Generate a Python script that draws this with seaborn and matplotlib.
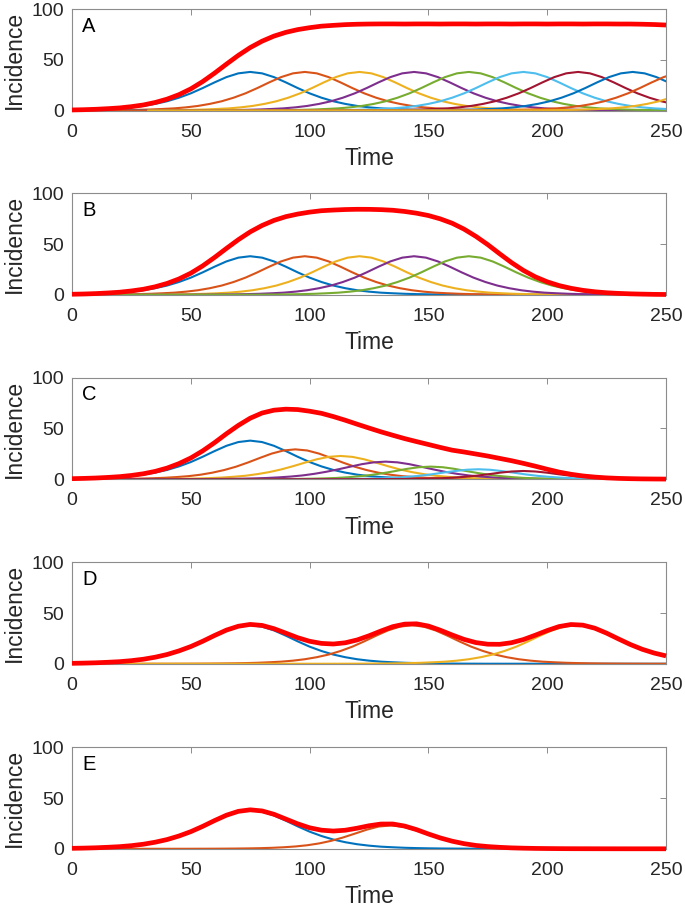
import numpy as np
import pandas as pd
import matplotlib
matplotlib.use("Agg")
import matplotlib.pyplot as plt
import seaborn as sns

# time grid of the red totals
time = np.arange(0, 251, 5)

# days relative to the peak of a sub-epidemic (grid of the component curves);
# the curves sit on zero from 100 days away out to 250 days away
offsets = np.r_[-250, np.arange(-100, 101, 5), 250]

# one sub-epidemic of height ~38 (blue curve, same shape in A, B, D and E)
profile = [0.0, 0.07, 0.10, 0.15, 0.22, 0.32, 0.47, 0.69, 1.0, 1.5, 2.1, 3.1, 4.5, 6.5, 9.1,
           12.6, 16.9, 22.1, 27.7, 32.9, 36.6, 38.0, 36.6, 32.9, 27.7, 22.1, 16.9, 12.6,
           9.1, 6.5, 4.5, 3.1, 2.1, 1.5, 1.0, 0.69, 0.47, 0.32, 0.22, 0.15, 0.10, 0.07, 0.0]

peaks_A = [75, 98, 121, 144, 167, 190, 213, 236, 259, 282]
peaks_B = [75, 98, 121, 144, 167]
peaks_C = [75, 94, 113, 132, 151, 171, 190]
peaks_D = [75, 143, 212]
peaks_E = [75, 134]

# panel C sub-epidemics get smaller one after the other
c_orange = [0.0, 0.04, 0.06, 0.09, 0.13, 0.19, 0.29, 0.43, 0.64, 0.95, 1.4, 2.1, 3.0, 4.4, 6.4,
            9.0, 12.3, 16.4, 20.9, 25.2, 28.3, 29.4, 28.3, 25.2, 20.9, 16.4, 12.3, 9.0,
            6.4, 4.4, 3.0, 2.1, 1.4, 0.95, 0.64, 0.43, 0.29, 0.19, 0.13, 0.09, 0.06, 0.04, 0.0]
c_yellow = [0.0, 0.03, 0.05, 0.07, 0.10, 0.15, 0.23, 0.34, 0.50, 0.74, 1.1, 1.6, 2.4, 3.4, 5.0,
            7.0, 9.6, 12.8, 16.3, 19.6, 22.0, 22.9, 22.0, 19.6, 16.3, 12.8, 9.6, 7.0,
            5.0, 3.4, 2.4, 1.6, 1.1, 0.74, 0.50, 0.34, 0.23, 0.15, 0.10, 0.07, 0.05, 0.03, 0.0]
c_purple = [0.0, 0.02, 0.03, 0.05, 0.08, 0.11, 0.17, 0.25, 0.38, 0.56, 0.83, 1.2, 1.8, 2.6, 3.7,
            5.3, 7.3, 9.7, 12.3, 14.8, 16.6, 17.3, 16.6, 14.8, 12.3, 9.7, 7.3, 5.3,
            3.7, 2.6, 1.8, 1.2, 0.83, 0.56, 0.38, 0.25, 0.17, 0.11, 0.08, 0.05, 0.03, 0.02, 0.0]
c_green = [0.0, 0.0, 0.01, 0.01, 0.02, 0.04, 0.05, 0.09, 0.13, 0.21, 0.33, 0.52, 0.80, 1.2, 1.9,
           2.9, 4.2, 6.0, 8.0, 10.2, 11.8, 12.4, 11.8, 10.2, 8.0, 6.0, 4.2, 2.9,
           1.9, 1.2, 0.80, 0.52, 0.33, 0.21, 0.13, 0.09, 0.05, 0.04, 0.02, 0.01, 0.01, 0.0, 0.0]
c_lightblue = [0.0, 0.0, 0.01, 0.01, 0.02, 0.03, 0.04, 0.07, 0.11, 0.17, 0.26, 0.41, 0.64, 0.98, 1.5,
               2.3, 3.3, 4.7, 6.4, 8.0, 9.3, 9.8, 9.3, 8.0, 6.4, 4.7, 3.3, 2.3,
               1.5, 0.98, 0.64, 0.41, 0.26, 0.17, 0.11, 0.07, 0.04, 0.03, 0.02, 0.01, 0.01, 0.0, 0.0]
c_darkred = [0.0, 0.0, 0.0, 0.0, 0.01, 0.01, 0.02, 0.03, 0.05, 0.08, 0.13, 0.22, 0.35, 0.57, 0.92,
             1.5, 2.3, 3.4, 4.8, 6.4, 7.6, 8.1, 7.6, 6.4, 4.8, 3.4, 2.3, 1.5,
             0.92, 0.57, 0.35, 0.22, 0.13, 0.08, 0.05, 0.03, 0.02, 0.01, 0.01, 0.0, 0.0, 0.0, 0.0]

# second, smaller wave of panel E
e_orange = [0.0, 0.01, 0.02, 0.03, 0.04, 0.07, 0.10, 0.16, 0.25, 0.39, 0.61, 0.96, 1.5, 2.3, 3.5,
            5.3, 7.8, 11.1, 14.9, 18.8, 21.9, 23.0, 21.9, 18.8, 14.9, 11.1, 7.8, 5.3,
            3.5, 2.3, 1.5, 0.96, 0.61, 0.39, 0.25, 0.16, 0.10, 0.07, 0.04, 0.03, 0.02, 0.01, 0.0]

# red curves, read every 5 time units
total_A = [0.55, 0.8, 1.2, 1.8, 2.55, 3.8, 5.45, 7.9, 11.2, 15.6,
           21.3, 28.5, 36.8, 45.7, 54.3, 62.0, 68.3, 73.3, 77.0, 79.7,
           81.6, 83.1, 83.9, 84.6, 85.0, 85.2, 85.3, 85.3, 85.2, 85.3,
           85.3, 85.2, 85.3, 85.3, 85.2, 85.3, 85.3, 85.2, 85.3, 85.3,
           85.2, 85.3, 85.3, 85.2, 85.3, 85.3, 85.2, 85.2, 85.0, 84.7,
           84.2]
total_B = [0.55, 0.8, 1.2, 1.8, 2.55, 3.8, 5.45, 7.9, 11.2, 15.6,
           21.3, 28.5, 36.8, 45.7, 54.3, 62.0, 68.3, 73.3, 77.0, 79.55,
           81.45, 82.85, 83.5, 84.0, 84.25, 84.2, 83.9, 83.3, 82.1, 80.4,
           78.1, 74.8, 70.5, 64.7, 57.55, 49.4, 40.4, 31.7, 24.0, 17.7,
           12.8, 9.1, 6.4, 4.4, 3.0, 2.0, 1.4, 0.95, 0.67, 0.44,
           0.31]
total_C = [0.53, 0.79, 1.17, 1.75, 2.5, 3.7, 5.35, 7.7, 10.95, 15.35,
           20.9, 27.9, 36.0, 44.8, 53.0, 60.1, 65.2, 68.0, 69.0, 68.6,
           67.0, 64.9, 61.7, 58.1, 54.2, 50.4, 46.7, 43.3, 40.0, 37.05,
           34.2, 31.3, 28.6, 26.8, 24.8, 22.8, 20.5, 18.2, 15.6, 12.8,
           9.8, 7.0, 4.85, 3.2, 2.1, 1.3, 0.8, 0.5, 0.3, 0.2,
           0.12]
total_D = [0.47, 0.69, 1.0, 1.5, 2.1, 3.1, 4.5, 6.5, 9.15, 12.7,
           17.0, 22.2, 27.9, 33.2, 37.0, 38.8, 37.8, 34.6, 30.2, 25.7,
           22.2, 20.1, 19.5, 20.7, 23.5, 27.6, 32.3, 36.6, 39.1, 39.4,
           37.2, 33.1, 28.4, 24.05, 20.9, 19.3, 19.2, 20.8, 23.9, 28.2,
           32.75, 36.7, 38.7, 38.1, 35.1, 30.2, 24.5, 19.0, 14.3, 10.6,
           7.8]
total_E = [0.47, 0.69, 1.0, 1.5, 2.1, 3.1, 4.5, 6.5, 9.1, 12.6,
           16.9, 22.1, 27.8, 33.1, 36.9, 38.4, 37.3, 34.0, 29.3, 24.6,
           20.7, 18.35, 17.5, 18.3, 20.3, 22.7, 24.4, 24.45, 22.4, 18.9,
           14.6, 10.7, 7.5, 5.05, 3.3, 2.2, 1.45, 0.92, 0.6, 0.38,
           0.25, 0.16, 0.1, 0.07, 0.05, 0.03, 0.02, 0.01, 0.01, 0.01,
           0.01]

matlab_colors = ["#0072BD", "#D95319", "#EDB120", "#7E2F8E", "#77AC30", "#4DBEEE", "#A2142F"]
total_color = "#FF0000"
frame_color = "#8c8c8c"
text_color = "#262626"


def sub_frame(peaks, curves):
    parts = []
    for i, (p, c) in enumerate(zip(peaks, curves)):
        parts.append(pd.DataFrame({"time": p + offsets, "incidence": c, "sub": f"s{i}"}))
    return pd.concat(parts, ignore_index=True)


def main():
    sns.set_style("white")
    plt.rcParams["font.family"] = ["Liberation Sans", "DejaVu Sans"]

    panels = [
        ("A", peaks_A, [profile] * len(peaks_A), total_A, 9.0),
        ("B", peaks_B, [profile] * len(peaks_B), total_B, 193.3),
        ("C", peaks_C, [profile, c_orange, c_yellow, c_purple, c_green, c_lightblue, c_darkred],
         total_C, 377.7),
        ("D", peaks_D, [profile] * len(peaks_D), total_D, 562.3),
        ("E", peaks_E, [profile, e_orange], total_E, 747.3),
    ]

    W, H = 685, 909
    fig = plt.figure(figsize=(W / 100, H / 100), dpi=100)

    for letter, peaks, curves, total, top_px in panels:
        ax = fig.add_axes([72 / W, 1 - (top_px + 101.5) / H, 594 / W, 101.5 / H])
        df = sub_frame(peaks, curves)
        labels = [f"s{i}" for i in range(len(peaks))]
        pal = {lab: matlab_colors[i % 7] for i, lab in enumerate(labels)}
        sns.lineplot(df, x="time", y="incidence", hue="sub", hue_order=labels, palette=pal,
                     estimator=None, sort=False, legend=False, lw=1.5, ax=ax)
        sns.lineplot(x=time, y=total, color=total_color, estimator=None, lw=3.4, ax=ax,
                     clip_on=False, solid_capstyle="butt", zorder=5)

        ax.set_xlim(0, 250)
        ax.set_ylim(0, 100)
        ax.set_xticks([0, 50, 100, 150, 200, 250])
        ax.set_yticks([0, 50, 100])
        ax.tick_params(direction="in", top=True, right=True, length=4, width=0.7,
                       color=frame_color, labelcolor=text_color, labelsize=14)
        ax.tick_params(axis="x", pad=9.5)
        ax.tick_params(axis="y", pad=6)
        for s in ax.spines.values():
            s.set_color(frame_color)
            s.set_linewidth(0.8)
        ax.set_xlabel("Time", fontsize=16.5, color=text_color, labelpad=4.5)
        ax.set_ylabel("Incidence", fontsize=16.5, color=text_color, labelpad=4)
        ax.text(0.017, 0.83, letter, transform=ax.transAxes, fontsize=14.5,
                ha="left", va="center", color="black")

    fig.savefig("out.png", dpi=100)


if __name__ == "__main__":
    main()
